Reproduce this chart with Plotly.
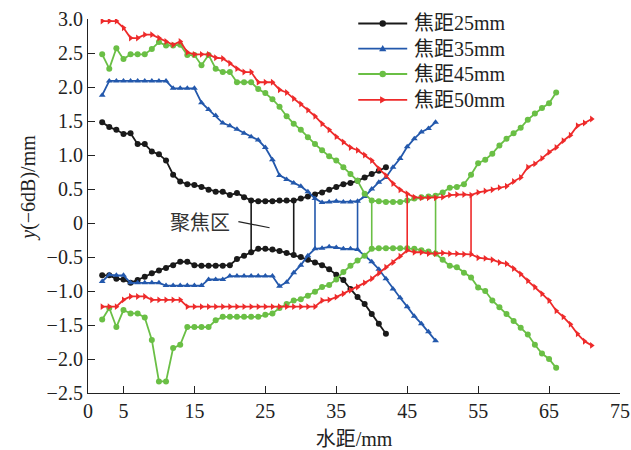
import plotly.graph_objects as go

# Beam width at -6 dB versus water path for four focal lengths
x25 = list(range(2, 43))
up25 = [1.48, 1.41, 1.37, 1.31, 1.32, 1.16, 1.16, 1.05, 1.01, 0.92, 0.71, 0.61, 0.57, 0.56, 0.53,
        0.49, 0.46, 0.46, 0.41, 0.44, 0.38, 0.33, 0.32, 0.32, 0.32, 0.33, 0.33, 0.33, 0.36, 0.39,
        0.42, 0.45, 0.49, 0.53, 0.57, 0.59, 0.62, 0.67, 0.72, 0.77, 0.82]
lo25 = [-0.77, -0.77, -0.82, -0.83, -0.88, -0.84, -0.79, -0.74, -0.70, -0.66, -0.62, -0.57, -0.57,
        -0.62, -0.63, -0.63, -0.63, -0.63, -0.62, -0.53, -0.48, -0.43, -0.38, -0.38, -0.39, -0.41,
        -0.44, -0.47, -0.50, -0.54, -0.58, -0.62, -0.68, -0.76, -0.84, -0.97, -1.09, -1.19, -1.34,
        -1.48, -1.63]

x35 = list(range(2, 50))
up35 = [1.88] + [2.09] * 9 + [1.98] * 4 + [1.77, 1.67, 1.58, 1.47, 1.43, 1.38, 1.32, 1.27, 1.22,
        1.11, 0.93, 0.70, 0.64, 0.59, 0.54, 0.46, 0.36, 0.30, 0.31, 0.32, 0.31, 0.31, 0.32, 0.39,
        0.50, 0.60, 0.67, 0.82, 0.95, 1.12, 1.24, 1.34, 1.39, 1.48]
lo35 = [-0.86, -0.76, -0.77, -0.77] + [-0.88] * 5 + [-0.92] * 6 + [-0.83] * 3 + [-0.78] * 7 + \
       [-0.93, -0.87, -0.73, -0.62, -0.48, -0.38, -0.37, -0.35, -0.36, -0.38, -0.38, -0.39, -0.48,
        -0.57, -0.68, -0.82, -0.97, -1.10, -1.23, -1.37, -1.48, -1.60, -1.73]

x45 = list(range(2, 67))
up45 = [2.48, 2.27, 2.57, 2.41, 2.48, 2.48, 2.48, 2.56, 2.66, 2.61, 2.61, 2.62, 2.47, 2.47, 2.32,
        2.47, 2.27, 2.22, 2.22, 2.07, 2.07, 2.07, 1.97, 1.91, 1.82, 1.71, 1.57, 1.46, 1.37, 1.26,
        1.16, 1.07, 0.98, 0.92, 0.82, 0.72, 0.62, 0.43, 0.33, 0.32, 0.31, 0.31, 0.31, 0.33, 0.36,
        0.38, 0.39, 0.40, 0.45, 0.52, 0.53, 0.57, 0.71, 0.88, 0.93, 1.02, 1.14, 1.24, 1.32, 1.40,
        1.52, 1.61, 1.69, 1.76, 1.92]
lo45 = [-1.42, -1.25, -1.53, -1.28, -1.33, -1.33, -1.39, -1.72, -2.33, -2.33, -1.84, -1.79, -1.53,
        -1.53, -1.53, -1.53, -1.43, -1.38, -1.38, -1.38, -1.38, -1.38, -1.38, -1.35, -1.33, -1.25,
        -1.19, -1.14, -1.12, -1.07, -1.01, -0.94, -0.91, -0.83, -0.72, -0.63, -0.55, -0.48, -0.38,
        -0.37, -0.37, -0.37, -0.37, -0.37, -0.38, -0.40, -0.42, -0.45, -0.54, -0.63, -0.65, -0.73,
        -0.80, -0.95, -1.00, -1.14, -1.24, -1.34, -1.44, -1.54, -1.64, -1.79, -1.92, -2.00, -2.13]

x50 = list(range(2, 72))
up50 = [2.97, 2.97, 2.97, 2.87, 2.72, 2.72, 2.77, 2.77, 2.72, 2.67, 2.62, 2.67, 2.51, 2.48, 2.48,
        2.48, 2.43, 2.42, 2.35, 2.27, 2.22, 2.22, 2.07, 2.07, 2.07, 1.96, 1.92, 1.83, 1.75, 1.66,
        1.57, 1.46, 1.37, 1.27, 1.19, 1.11, 1.07, 1.00, 0.92, 0.80, 0.70, 0.58, 0.49, 0.43, 0.38,
        0.37, 0.37, 0.37, 0.38, 0.41, 0.42, 0.42, 0.41, 0.45, 0.47, 0.49, 0.52, 0.54, 0.61, 0.67,
        0.82, 0.87, 0.95, 1.04, 1.11, 1.21, 1.29, 1.43, 1.47, 1.53]
lo50 = [-1.23, -1.23, -1.23, -1.13, -1.08, -1.08, -1.08] + [-1.13] * 5 + [-1.23] * 19 + \
       [-1.14, -1.13, -1.09, -1.04, -0.99, -0.94, -0.88, -0.82, -0.74, -0.65, -0.58, -0.49, -0.40,
        -0.43, -0.43, -0.45, -0.45, -0.44, -0.45, -0.45, -0.46, -0.46, -0.51, -0.52, -0.54, -0.58,
        -0.60, -0.67, -0.75, -0.85, -0.94, -1.04, -1.14, -1.29, -1.38, -1.49, -1.63, -1.74, -1.80]

names = ["焦距25mm", "焦距35mm", "焦距45mm", "焦距50mm"]
# focal-zone limits (water path, mm) for each focal length
zones = [(23, 29), (32, 38), (40, 49), (45, 54)]

series = [(x25, up25, lo25), (x35, up35, lo35), (x45, up45, lo45), (x50, up50, lo50)]
colors = ["#1a1a1a", "#2358ac", "#6abf45", "#ee2a2a"]
symbols = ["circle", "triangle-up", "circle", "triangle-right"]

x_ticks = [0, 5, 15, 25, 35, 45, 55, 65, 75]
y_ticks = [3.0, 2.5, 2.0, 1.5, 1.0, 0.5, 0, -0.5, -1.0, -1.5, -2.0, -2.5]
y_text = ["3.0", "2.5", "2.0", "1.5", "1.0", "0.5", "0", "−0.5", "−1.0", "−1.5", "−2.0", "−2.5"]

FONT = "Liberation Serif, Times New Roman, Noto Sans CJK SC"
TXT = "#222"

fig = go.Figure()
for (xs, up, lo), name, col, sym, (z0, z1) in zip(series, names, colors, symbols, zones):
    fig.add_trace(go.Scatter(
        x=xs + [None] + xs, y=up + [None] + lo, mode="lines+markers", name=name,
        line=dict(color=col, width=1.8), marker=dict(symbol=sym, size=6, color=col),
        showlegend=False))
    # vertical bars marking the focal zone boundaries
    for z in (z0, z1):
        i = xs.index(z)
        fig.add_trace(go.Scatter(
            x=[z, z], y=[up[i], lo[i]], mode="lines", line=dict(color=col, width=1.6),
            showlegend=False, hoverinfo="skip"))

# legend key drawn in paper space: a short line, a marker and the label per row
leg_x0, leg_x1, leg_mid, leg_text = 0.508, 0.600, 0.554, 0.609
leg_rows = [0.988, 0.921, 0.853, 0.784]
for name, col, sym, yy in zip(names, colors, symbols, leg_rows):
    fig.add_shape(type="line", xref="paper", yref="paper", x0=leg_x0, x1=leg_x1, y0=yy, y1=yy,
                  line=dict(color=col, width=1.8))
    if sym == "circle":
        fig.add_shape(type="circle", xref="paper", yref="paper", xsizemode="pixel",
                      ysizemode="pixel", xanchor=leg_mid, yanchor=yy, x0=-3.2, x1=3.2,
                      y0=-3.2, y1=3.2, fillcolor=col, line=dict(color=col, width=0))
    elif sym == "triangle-up":
        fig.add_shape(type="path", xref="paper", yref="paper", xsizemode="pixel",
                      ysizemode="pixel", xanchor=leg_mid, yanchor=yy,
                      path="M -3.6 -2.6 L 3.6 -2.6 L 0 3.6 Z", fillcolor=col,
                      line=dict(color=col, width=0))
    else:
        fig.add_shape(type="path", xref="paper", yref="paper", xsizemode="pixel",
                      ysizemode="pixel", xanchor=leg_mid, yanchor=yy,
                      path="M -2.6 -3.6 L -2.6 3.6 L 3.6 0 Z", fillcolor=col,
                      line=dict(color=col, width=0))
    fig.add_annotation(xref="paper", yref="paper", x=leg_text, y=yy, xanchor="left",
                       yanchor="middle", text=name, showarrow=False,
                       font=dict(family=FONT, size=20, color=TXT))

# "聚焦区" label with a leader line crossing the first zone
fig.add_annotation(x=15.85, y=0.0, text="聚焦区", showarrow=False,
                   font=dict(family=FONT, size=20, color="#333"))
fig.add_shape(type="line", x0=21.2, y0=0.02, x1=25.6, y1=-0.07,
              line=dict(color="#222", width=1.2))

fig.add_annotation(xref="paper", yref="paper", x=-0.112, y=0.55, xanchor="center",
                   yanchor="middle", text="<i>y</i>(−6dB)/mm", textangle=-90, showarrow=False,
                   font=dict(family=FONT, size=20, color=TXT))

fig.update_layout(
    width=631, height=450,
    margin=dict(l=87.5, r=11, t=18.5, b=57),
    paper_bgcolor="white", plot_bgcolor="white",
    font=dict(family=FONT, size=20, color=TXT),
    showlegend=False,
    xaxis=dict(range=[0, 75], tickvals=x_ticks, ticktext=[str(v) for v in x_ticks],
               ticks="inside", ticklen=7, tickwidth=1.2, tickcolor=TXT, automargin=False,
               showline=True, linecolor=TXT, linewidth=1.2, showgrid=False, zeroline=False,
               title=dict(text="水距/mm", font=dict(family=FONT, size=20), standoff=12)),
    yaxis=dict(range=[-2.5, 3.0], tickvals=y_ticks, ticktext=y_text, automargin=False,
               ticks="inside", ticklen=7, tickwidth=1.2, tickcolor=TXT,
               showline=True, linecolor=TXT, linewidth=1.2, showgrid=False, zeroline=False),
)

fig.write_html("out.html")
